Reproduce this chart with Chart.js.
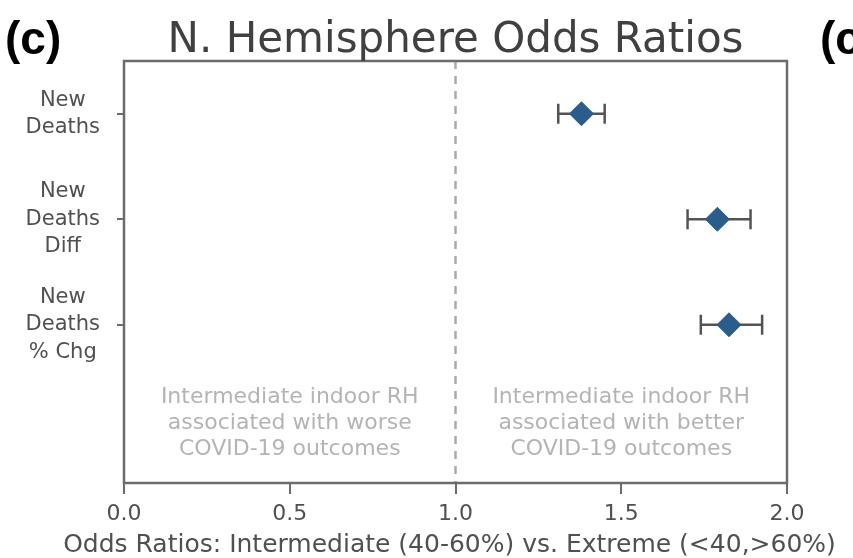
<!DOCTYPE html>
<html>
<head>
<meta charset="utf-8">
<script src="https://cdn.jsdelivr.net/npm/chart.js@4.4.1/dist/chart.umd.min.js"></script>
<style>
  html, body { margin: 0; padding: 0; background: #fff; }
  #wrap { width: 853px; height: 558px; position: relative; }
</style>
</head>
<body>
<div id="wrap"><canvas id="oddsChart"></canvas></div>
<script>
// Outcomes shown on the y axis (top to bottom)
const outcomes = [['New', 'Deaths'], ['New', 'Deaths', 'Diff'], ['New', 'Deaths', '% Chg']];
// Odds ratio and 95% CI
const oddsRatio = [1.38, 1.79, 1.825];
const ciLow = [1.31, 1.70, 1.74];
const ciHigh = [1.45, 1.89, 1.925];
// x axis ticks
const xTicks = [0.0, 0.5, 1.0, 1.5, 2.0];
const refValue = 1.0;
const xLabel = 'Odds Ratios: Intermediate (40-60%) vs. Extreme (<40,>60%)';
// notes inside the plot
const noteLeft = ['Intermediate indoor RH', 'associated with worse', 'COVID-19 outcomes'];
const noteRight = ['Intermediate indoor RH', 'associated with better', 'COVID-19 outcomes'];
const noteX = [0.5, 1.5];
const noteY = 2.93;

const ctx = document.getElementById('oddsChart').getContext('2d');
const FONT = "'DejaVu Sans', sans-serif";

// error bars: one little line per outcome, caps drawn as rotated 'line' points
const errorBars = outcomes.map((o, i) => ({
    type: 'line',
    data: [{ x: ciLow[i], y: i }, { x: ciHigh[i], y: i }],
    borderColor: '#565252',
    borderWidth: 2.5,
    pointStyle: 'line',
    rotation: 90,
    pointRadius: 10,
    pointBorderWidth: 2.5,
    pointBorderColor: '#565252',
    pointHoverRadius: 10,
    order: 2
}));

const extras = {
    id: 'extras',
    afterDraw(chart) {
        const c = chart.ctx;
        const a = chart.chartArea;
        const xs = chart.scales.x, ys = chart.scales.y;
        c.save();
        // axes box
        c.strokeStyle = '#6c6c6c';
        c.lineWidth = 2.5;
        c.strokeRect(a.left, a.top, a.right - a.left, a.bottom - a.top);

        // notes
        c.fillStyle = '#b4b4b4';
        c.font = '22px ' + FONT;
        c.textAlign = 'center';
        c.textBaseline = 'middle';
        [noteLeft, noteRight].forEach((lines, k) => {
            const px = xs.getPixelForValue(noteX[k]);
            const py = ys.getPixelForValue(noteY);
            lines.forEach((t, j) => c.fillText(t, px, py + (j - 1) * 26));
        });

        // x axis label (wider than the plot, so drawn here)
        c.fillStyle = '#505050';
        c.font = '25px ' + FONT;
        c.textBaseline = 'alphabetic';
        c.fillText(xLabel, (a.left + a.right) / 2 - 6, 552);

        // title
        c.fillStyle = '#404040';
        c.font = '42px ' + FONT;
        c.fillText('N. Hemisphere Odds Ratios', (a.left + a.right) / 2, 52);

        // panel letters
        c.fillStyle = '#000';
        c.font = "bold 46px 'Liberation Sans', Arial, sans-serif";
        c.textAlign = 'left';
        c.fillText('(c)', 5, 54);
        c.fillText('(c)', 820, 54);
        c.restore();
    }
};

new Chart(ctx, {
    type: 'line',
    data: {
        datasets: [
            {
                type: 'line',
                data: [{ x: refValue, y: -0.5 }, { x: refValue, y: 3.5 }],
                borderColor: '#aaaaaa',
                borderWidth: 2.5,
                borderDash: [8, 7],
                pointRadius: 0,
                order: 3
            },
            ...errorBars,
            {
                type: 'line',
                label: 'Odds ratio',
                data: oddsRatio.map((v, i) => ({ x: v, y: i })),
                showLine: false,
                pointStyle: 'rectRot',
                pointRadius: 12,
                pointHoverRadius: 12,
                backgroundColor: '#2b5d8c',
                borderColor: '#2b5d8c',
                order: 1
            }
        ]
    },
    options: {
        responsive: true,
        maintainAspectRatio: false,
        animation: false,
        layout: { padding: { top: 61, right: 66, left: 0, bottom: 0 } },
        scales: {
            x: {
                type: 'linear',
                min: 0,
                max: 2,
                afterBuildTicks: s => { s.ticks = xTicks.map(v => ({ value: v })); },
                afterFit: s => { s.height = 75; },
                grid: { display: true, drawOnChartArea: false, drawTicks: true, tickLength: 11, color: '#6c6c6c', lineWidth: 2 },
                border: { display: false },
                ticks: {
                    padding: 7,
                    color: '#505050',
                    font: { family: FONT, size: 22 },
                    callback: v => v.toFixed(1)
                }
            },
            y: {
                type: 'linear',
                reverse: true,
                min: -0.5,
                max: 3.5,
                afterBuildTicks: s => { s.ticks = outcomes.map((o, i) => ({ value: i })); },
                afterFit: s => { s.width = 124; },
                grid: { display: true, drawOnChartArea: false, drawTicks: true, tickLength: 7, color: '#6c6c6c', lineWidth: 2 },
                border: { display: false },
                ticks: {
                    padding: 17,
                    crossAlign: 'center',
                    color: '#505050',
                    font: { family: FONT, size: 21, lineHeight: 1.3 },
                    callback: v => outcomes[v]
                }
            }
        },
        plugins: {
            legend: { display: false },
            title: { display: false },
            tooltip: { enabled: false }
        }
    },
    plugins: [extras]
});
</script>
</body>
</html>
